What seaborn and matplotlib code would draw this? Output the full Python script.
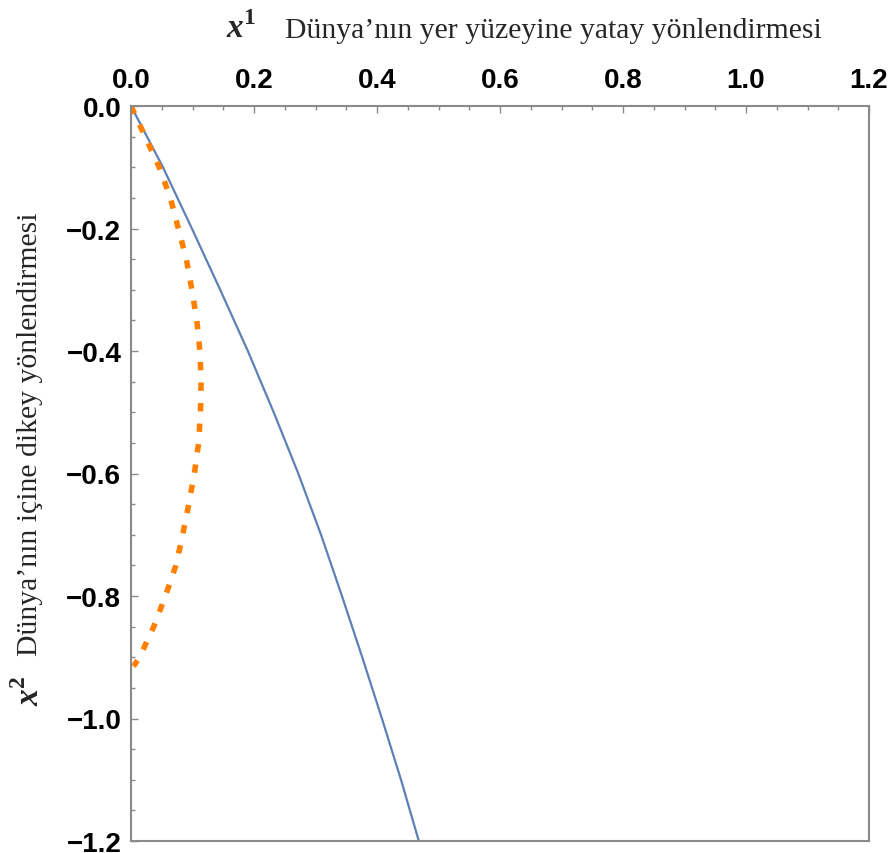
import matplotlib
matplotlib.use("Agg")
import matplotlib.pyplot as plt
import pandas as pd
import seaborn as sns
from matplotlib.ticker import MultipleLocator

# path 1 (blue, solid): horizontal x1 vs vertical x2
blue_x2 = [0.0, -0.1, -0.2, -0.3, -0.4, -0.5, -0.6, -0.7, -0.8, -0.9, -1.0, -1.1, -1.2]
blue_x1 = [0.0, 0.052, 0.099, 0.145, 0.190, 0.232, 0.272, 0.309, 0.343, 0.376, 0.408, 0.439, 0.468]

# path 2 (orange, dashed)
orange_x2 = [0.0, -0.05, -0.1, -0.15, -0.2, -0.25, -0.3, -0.35, -0.4, -0.45, -0.5,
             -0.55, -0.6, -0.65, -0.7, -0.75, -0.8, -0.85, -0.9, -0.915]
orange_x1 = [0.0, 0.023, 0.046, 0.064, 0.077, 0.090, 0.099, 0.107, 0.112, 0.114, 0.113,
             0.110, 0.103, 0.094, 0.084, 0.073, 0.056, 0.037, 0.014, 0.004]

x_ticks = [0.0, 0.2, 0.4, 0.6, 0.8, 1.0, 1.2]
x_labels = ["0.0", "0.2", "0.4", "0.6", "0.8", "1.0", "1.2"]
y_ticks = [0.0, -0.2, -0.4, -0.6, -0.8, -1.0, -1.2]
y_labels = ["0.0", "\u22120.2", "\u22120.4", "\u22120.6", "\u22120.8", "\u22121.0", "\u22121.2"]

x_title = "D\u00fcnya\u2019n\u0131n yer y\u00fczeyine yatay y\u00f6nlendirmesi"
y_title = "D\u00fcnya\u2019n\u0131n i\u00e7ine dikey y\u00f6nlendirmesi"

sns.set_style("white")
plt.rcParams["font.family"] = ["Liberation Sans", "DejaVu Sans"]
plt.rcParams["mathtext.fontset"] = "custom"
plt.rcParams["mathtext.rm"] = "Liberation Serif:bold"
plt.rcParams["mathtext.bf"] = "Liberation Serif:bold"
plt.rcParams["mathtext.bfit"] = "Liberation Serif:italic:bold"

blue = pd.DataFrame({"x1": blue_x1, "x2": blue_x2})
orange = pd.DataFrame({"x1": orange_x1, "x2": orange_x2})

fig = plt.figure(figsize=(8.94, 8.54), dpi=100)
ax = fig.add_axes([131 / 894, 1 - 842 / 854, (869 - 131) / 894, (842 - 107) / 854])

sns.lineplot(data=blue, x="x1", y="x2", sort=False, estimator=None,
             color="#5E81B5", linewidth=1.6, ax=ax)
sns.lineplot(data=orange, x="x1", y="x2", sort=False, estimator=None,
             color="#FF8000", linewidth=4.0, linestyle=(0, (1.5, 2.2)),
             dash_capstyle="butt", ax=ax)

ax.set_xlim(0, 1.2)
ax.set_ylim(-1.2, 0)
ax.set_xlabel("")
ax.set_ylabel("")

frame_col = "#8a8a8a"
for sp in ax.spines.values():
    sp.set_color(frame_col)
    sp.set_linewidth(1.5)

ax.xaxis.tick_top()
ax.set_xticks(x_ticks)
ax.set_xticklabels(x_labels)
ax.set_yticks(y_ticks)
ax.set_yticklabels(y_labels)
ax.xaxis.set_minor_locator(MultipleLocator(0.05))
ax.yaxis.set_minor_locator(MultipleLocator(0.05))
ax.tick_params(which="both", direction="in", color=frame_col, width=1.0,
               top=True, bottom=False, left=True, right=False)
ax.tick_params(which="major", length=5)
ax.tick_params(which="minor", length=3)
ax.tick_params(axis="x", which="major", pad=9, labelsize=20, labelcolor="black")
ax.tick_params(axis="y", which="major", pad=7, labelsize=20, labelcolor="black")
for lab in ax.get_xticklabels() + ax.get_yticklabels():
    lab.set_fontweight("bold")

serif = ["Liberation Serif", "DejaVu Serif"]
fig.text(226 / 894, 1 - 38 / 854, r"$\mathbfit{x}^{\mathbf{1}}$", fontsize=24,
         ha="left", va="baseline")
fig.text(285 / 894, 1 - 38 / 854, x_title, family=serif, fontsize=21.4,
         ha="left", va="baseline")
fig.text(30 / 894, 1 - 212 / 854, y_title, family=serif, fontsize=21.4,
         rotation=90, ha="center", va="top")
fig.text(30 / 894, 1 - 676 / 854, r"$\mathbfit{x}^{\mathbf{2}}$", fontsize=24,
         rotation=90, ha="center", va="top")

fig.savefig("out.png", dpi=100)
